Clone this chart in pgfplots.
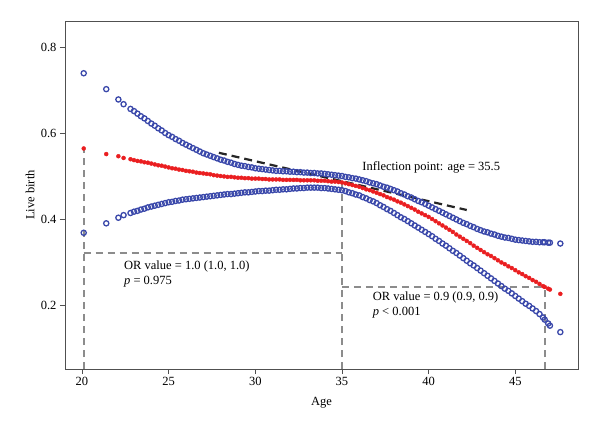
\documentclass[border=0pt]{standalone}
\usepackage{fontspec}
\setmainfont{Liberation Serif}
\usepackage{pgfplots}
\usepackage{pgfplotstable}
\pgfplotsset{compat=1.18}

\definecolor{ciblue}{RGB}{58,72,170}
\definecolor{fitred}{RGB}{234,30,32}
\definecolor{guide}{RGB}{140,140,140}
\definecolor{frame}{RGB}{80,80,80}

% age, upper CI, fitted probability, lower CI
\pgfplotstableread{
age  up    fit   lo
20.1 0.739 0.564 0.368
21.4 0.702 0.551 0.390
22.1 0.678 0.546 0.403
22.4 0.667 0.542 0.409
22.8 0.656 0.539 0.414
23.0 0.651 0.537 0.417
23.2 0.645 0.535 0.419
23.4 0.639 0.534 0.422
23.6 0.634 0.532 0.424
23.8 0.628 0.531 0.427
24.0 0.622 0.529 0.429
24.2 0.617 0.527 0.431
24.4 0.611 0.525 0.433
24.6 0.606 0.524 0.435
24.8 0.600 0.522 0.437
25.0 0.595 0.520 0.439
25.2 0.591 0.518 0.440
25.4 0.586 0.517 0.442
25.6 0.582 0.515 0.443
25.8 0.577 0.514 0.445
26.0 0.573 0.512 0.446
26.2 0.569 0.511 0.447
26.4 0.565 0.510 0.448
26.6 0.561 0.508 0.449
26.8 0.557 0.507 0.450
27.0 0.553 0.506 0.451
27.2 0.550 0.505 0.452
27.4 0.547 0.504 0.453
27.6 0.544 0.502 0.454
27.8 0.541 0.501 0.455
28.0 0.538 0.500 0.456
28.2 0.536 0.499 0.457
28.4 0.533 0.498 0.458
28.6 0.531 0.498 0.458
28.8 0.528 0.497 0.459
29.0 0.526 0.496 0.460
29.2 0.524 0.496 0.461
29.4 0.523 0.495 0.462
29.6 0.521 0.495 0.462
29.8 0.520 0.494 0.463
30.0 0.518 0.494 0.464
30.2 0.517 0.494 0.465
30.4 0.516 0.493 0.465
30.6 0.515 0.493 0.466
30.8 0.514 0.492 0.466
31.0 0.513 0.492 0.467
31.2 0.512 0.492 0.468
31.4 0.512 0.492 0.468
31.6 0.511 0.491 0.469
31.8 0.511 0.491 0.469
32.0 0.510 0.491 0.470
32.2 0.510 0.491 0.471
32.4 0.509 0.491 0.471
32.6 0.509 0.490 0.472
32.8 0.508 0.490 0.472
33.0 0.508 0.490 0.473
33.2 0.507 0.490 0.473
33.4 0.507 0.490 0.473
33.6 0.506 0.489 0.473
33.8 0.506 0.489 0.472
34.0 0.505 0.489 0.472
34.2 0.504 0.488 0.471
34.4 0.503 0.487 0.470
34.6 0.502 0.487 0.469
34.8 0.501 0.486 0.468
35.0 0.500 0.485 0.467
35.2 0.498 0.483 0.465
35.4 0.497 0.481 0.462
35.6 0.495 0.479 0.460
35.8 0.494 0.477 0.457
36.0 0.492 0.475 0.455
36.2 0.490 0.472 0.451
36.4 0.488 0.469 0.448
36.6 0.485 0.467 0.444
36.8 0.483 0.464 0.441
37.0 0.481 0.461 0.437
37.2 0.478 0.458 0.432
37.4 0.475 0.455 0.428
37.6 0.473 0.451 0.423
37.8 0.470 0.448 0.419
38.0 0.467 0.445 0.414
38.2 0.464 0.441 0.409
38.4 0.460 0.438 0.404
38.6 0.457 0.434 0.400
38.8 0.453 0.430 0.395
39.0 0.450 0.426 0.390
39.2 0.446 0.422 0.385
39.4 0.442 0.417 0.380
39.6 0.439 0.413 0.375
39.8 0.435 0.409 0.370
40.0 0.431 0.405 0.365
40.2 0.427 0.400 0.360
40.4 0.423 0.395 0.354
40.6 0.419 0.390 0.349
40.8 0.415 0.385 0.343
41.0 0.411 0.380 0.338
41.2 0.407 0.375 0.332
41.4 0.403 0.370 0.326
41.6 0.399 0.364 0.321
41.8 0.395 0.359 0.315
42.0 0.391 0.354 0.309
42.2 0.388 0.349 0.303
42.4 0.384 0.344 0.297
42.6 0.381 0.338 0.292
42.8 0.377 0.333 0.286
43.0 0.374 0.328 0.280
43.2 0.371 0.323 0.274
43.4 0.369 0.318 0.268
43.6 0.366 0.314 0.262
43.8 0.364 0.309 0.256
44.0 0.361 0.304 0.250
44.2 0.359 0.299 0.244
44.4 0.357 0.295 0.238
44.6 0.356 0.290 0.233
44.8 0.354 0.286 0.227
45.0 0.352 0.281 0.221
45.2 0.351 0.276 0.215
45.4 0.350 0.272 0.209
45.6 0.349 0.267 0.203
45.8 0.348 0.263 0.198
46.0 0.347 0.258 0.192
46.2 0.347 0.254 0.186
46.4 0.346 0.249 0.179
46.6 0.346 0.244 0.171
46.7 0.346 0.242 0.166
46.9 0.345 0.238 0.157
47.0 0.345 0.236 0.152
47.6 0.343 0.226 0.137
}\curve

\begin{document}
\begin{tikzpicture}
\begin{axis}[
  scale only axis,
  width=513pt, height=348pt,
  xmin=19.02, xmax=48.62,
  ymin=0.0512, ymax=0.8605,
  xtick={20,25,30,35,40,45},
  ytick={0.2,0.4,0.6,0.8},
  xtick pos=bottom, ytick pos=left,
  tick align=outside,
  major tick length=5pt,
  axis line style={frame, line width=0.9pt},
  tick style={frame, line width=0.9pt},
  every tick label/.append style={font=\fontsize{12.5}{14}\selectfont},
  /pgf/number format/assume math mode=true,
  yticklabel style={/pgf/number format/fixed, /pgf/number format/precision=1},
  xlabel={Age},
  ylabel={Live birth},
  label style={font=\fontsize{12.5}{14}\selectfont},
  xlabel style={at={(axis description cs:0.5,-0.098)}, anchor=center},
  ylabel style={at={(axis description cs:-0.068,0.5)}, anchor=center},
  clip=false,
]
% reference guides at the cut points
\addplot[guide, line width=2pt, dash pattern=on 7pt off 5pt] coordinates {(20.1,0.0512) (20.1,0.564)};
\addplot[guide, line width=2pt, dash pattern=on 7pt off 5pt] coordinates {(20.1,0.32) (35.0,0.32)};
\addplot[guide, line width=2pt, dash pattern=on 7pt off 5pt] coordinates {(35.0,0.0512) (35.0,0.49)};
\addplot[guide, line width=2pt, dash pattern=on 7pt off 5pt] coordinates {(35.0,0.243) (46.7,0.243)};
\addplot[guide, line width=2pt, dash pattern=on 7pt off 5pt] coordinates {(46.7,0.0512) (46.7,0.243)};

% confidence bounds and fitted curve
\addplot[only marks, mark=o, mark size=2.6pt, ciblue, mark options={line width=1.3pt}] table[x=age, y=up] {\curve};
\addplot[only marks, mark=o, mark size=2.6pt, ciblue, mark options={line width=1.3pt}] table[x=age, y=lo] {\curve};
\addplot[only marks, mark=*, mark size=2.0pt, fitred, mark options={draw=fitred}] table[x=age, y=fit] {\curve};

% tangent through the inflection point
\addplot[black!85, line width=2.2pt, dash pattern=on 8pt off 5pt] coordinates {(27.9,0.554) (42.2,0.421)};

\node[anchor=west, font=\fontsize{12.5}{14}\selectfont] at (axis cs:35.98,0.521) {Inflection point: age = 35.5};
\node[anchor=west, font=\fontsize{12.5}{14}\selectfont] at (axis cs:22.23,0.289) {OR value = 1.0 (1.0, 1.0)};
\node[anchor=west, font=\fontsize{12.5}{14}\selectfont] at (axis cs:22.23,0.254) {\textit{p} = 0.975};
\node[anchor=west, font=\fontsize{12.5}{14}\selectfont] at (axis cs:36.58,0.218) {OR value = 0.9 (0.9, 0.9)};
\node[anchor=west, font=\fontsize{12.5}{14}\selectfont] at (axis cs:36.58,0.182) {\textit{p} < 0.001};
\end{axis}
\path (current axis.south west) ++(-65pt,-63pt) rectangle ++(600pt,432pt);
\end{tikzpicture}
\end{document}
